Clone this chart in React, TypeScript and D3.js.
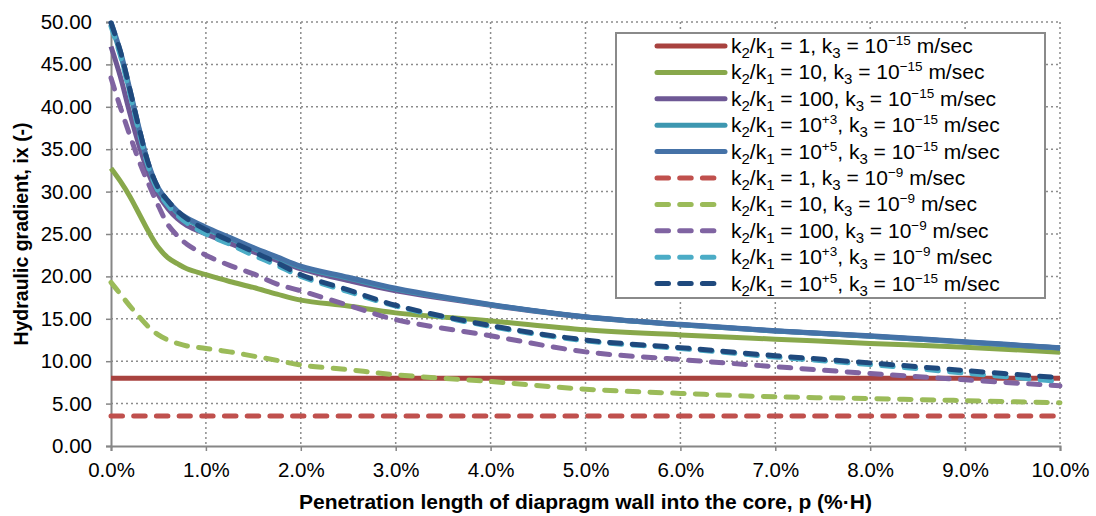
import React, { useEffect, useRef } from "react";
import * as d3 from "d3";

// penetration length p (% of H)
const penetration = [0, 0.1, 0.2, 0.3, 0.4, 0.5, 0.6, 0.7, 0.8, 1.0, 1.25, 1.5, 1.75, 2.0, 2.5, 3, 4, 5, 6, 7, 8, 9, 10];

// hydraulic gradient ix, k3 = 1e-15
const r1k15 = [8.0, 8.0, 8.0, 8.0, 8.0, 8.0, 8.0, 8.0, 8.0, 8.0, 8.0, 8.0, 8.0, 8.0, 8.0, 8.0, 8.0, 8.0, 8.0, 8.0, 8.0, 8.0, 8.0];
const r10k15 = [32.75, 31.2, 29.4, 27.3, 25.2, 23.4, 22.2, 21.5, 20.9, 20.2, 19.4, 18.7, 17.9, 17.2, 16.5, 15.7, 14.75, 13.7, 13.1, 12.6, 12.1, 11.65, 11.05];
const r100k15 = [47.1, 43.5, 39.2, 35.3, 32.0, 29.6, 28.0, 26.8, 26.0, 25.0, 23.9, 22.9, 21.9, 20.9, 19.5, 18.3, 16.6, 15.2, 14.3, 13.55, 12.95, 12.25, 11.55];
const r1e3k15 = [49.7, 46.2, 41.7, 37.1, 32.9, 30.2, 28.7, 27.5, 26.7, 25.6, 24.5, 23.3, 22.2, 21.1, 19.8, 18.5, 16.65, 15.2, 14.3, 13.55, 12.95, 12.25, 11.55];
const r1e5k15 = [50.0, 46.5, 42.0, 37.3, 33.1, 30.4, 28.9, 27.7, 26.9, 25.8, 24.6, 23.4, 22.3, 21.2, 19.9, 18.6, 16.7, 15.25, 14.35, 13.6, 13.0, 12.3, 11.6];
// k3 = 1e-9
const r1k9 = [3.55, 3.55, 3.55, 3.55, 3.55, 3.55, 3.55, 3.55, 3.55, 3.55, 3.55, 3.55, 3.55, 3.55, 3.55, 3.55, 3.55, 3.55, 3.55, 3.55, 3.55, 3.55, 3.55];
const r10k9 = [19.3, 17.9, 16.5, 15.2, 14.0, 13.1, 12.5, 12.1, 11.8, 11.5, 11.1, 10.6, 10.1, 9.55, 9.0, 8.4, 7.6, 6.7, 6.2, 5.8, 5.6, 5.35, 5.1];
const r100k9 = [43.4, 39.9, 36.6, 33.5, 30.8, 28.3, 26.1, 24.8, 23.8, 22.5, 21.3, 20.3, 19.1, 18.3, 16.6, 14.9, 13.0, 11.1, 10.2, 9.35, 8.55, 7.8, 7.1];
const r1e3k9 = [49.5, 46.0, 41.5, 36.8, 32.7, 30.0, 28.4, 27.2, 26.3, 25.0, 23.8, 22.5, 21.3, 20.0, 18.2, 16.5, 14.1, 12.4, 11.5, 10.5, 9.6, 8.6, 7.6];
const r1e5k9 = [49.9, 46.5, 42.0, 37.3, 33.1, 30.4, 28.9, 27.7, 26.8, 25.5, 24.2, 22.9, 21.6, 20.2, 18.4, 16.6, 14.2, 12.5, 11.6, 10.65, 9.8, 8.9, 8.05];

// legend label pieces
const ratioBase = ["1", "10", "100", "10", "10", "1", "10", "100", "10", "10"];
const ratioExp = ["", "", "", "+3", "+5", "", "", "", "+3", "+5"];
const k3Exp = ["\u221215", "\u221215", "\u221215", "\u221215", "\u221215", "\u22129", "\u22129", "\u22129", "\u22129", "\u221215"];

const yTicks = [0, 5, 10, 15, 20, 25, 30, 35, 40, 45, 50];
const xTicks = [0, 1, 2, 3, 4, 5, 6, 7, 8, 9, 10];

const seriesValues = [r1k15, r10k15, r100k15, r1e3k15, r1e5k15, r1k9, r10k9, r100k9, r1e3k9, r1e5k9];
const colors = ["#A8423F", "#88A84B", "#6E5895", "#3D97B0", "#4572A7", "#C0504D", "#9BBB59", "#8064A2", "#4BACC6", "#1F497D"];
const dashed = [false, false, false, false, false, true, true, true, true, true];

const FONT = "'Liberation Sans', Arial, sans-serif";

type Piece = { t: string; s: number; size?: number };

const Chart: React.FC = () => {
  const svgRef = useRef<SVGSVGElement | null>(null);

  useEffect(() => {
    if (!svgRef.current) return;
    const svg = d3.select(svgRef.current);
    svg.selectAll("*").remove();

    const width = 1096;
    const height = 516;
    const margin = { top: 22, right: 36, bottom: 70, left: 111 };
    const plotW = width - margin.left - margin.right;
    const plotH = height - margin.top - margin.bottom;

    svg.attr("width", width).attr("height", height);

    const x = d3.scaleLinear().domain([0, 10]).range([0, plotW]);
    const y = d3.scaleLinear().domain([0, 50]).range([plotH, 0]);

    const g = svg.append("g").attr("transform", `translate(${margin.left},${margin.top})`);

    // dotted gridlines
    g.append("g")
      .selectAll("line")
      .data(yTicks.slice(1))
      .enter()
      .append("line")
      .attr("x1", 0)
      .attr("x2", plotW)
      .attr("y1", (d) => y(d))
      .attr("y2", (d) => y(d))
      .attr("stroke", "#8c8c8c")
      .attr("stroke-width", 1.5)
      .attr("stroke-dasharray", "2,3");

    g.append("g")
      .selectAll("line")
      .data(xTicks.slice(1))
      .enter()
      .append("line")
      .attr("x1", (d) => x(d))
      .attr("x2", (d) => x(d))
      .attr("y1", 0)
      .attr("y2", plotH)
      .attr("stroke", "#8c8c8c")
      .attr("stroke-width", 1.5)
      .attr("stroke-dasharray", "2,3");

    // axes
    const yAxis = d3.axisLeft(y).tickValues(yTicks).tickSize(5).tickPadding(14).tickFormat((d) => d3.format(".2f")(d as number));
    const xAxis = d3.axisBottom(x).tickValues(xTicks).tickSize(5).tickPadding(11).tickFormat((d) => `${(d as number).toFixed(1)}%`);

    const ya = g.append("g").call(yAxis);
    const xa = g.append("g").attr("transform", `translate(0,${plotH})`).call(xAxis);
    [ya, xa].forEach((a) => {
      a.select(".domain").attr("stroke", "#868686").attr("stroke-width", 2);
      a.selectAll(".tick line").attr("stroke", "#868686").attr("stroke-width", 1.5);
      a.selectAll(".tick text").attr("fill", "#000").style("font-family", FONT).style("font-size", "20.5px");
    });

    // series
    const line = d3
      .line<number>()
      .x((_, i) => x(penetration[i]))
      .y((d) => y(d))
      .curve(d3.curveCatmullRom.alpha(0.5));

    seriesValues.forEach((vals, i) => {
      g.append("path")
        .datum(vals)
        .attr("d", line)
        .attr("fill", "none")
        .attr("stroke", colors[i])
        .attr("stroke-width", 5)
        .attr("stroke-linecap", dashed[i] ? "round" : "butt")
        .attr("stroke-linejoin", "round")
        .attr("stroke-dasharray", dashed[i] ? "11.5,11.2" : null);
    });

    // legend
    const lg = svg.append("g").attr("transform", "translate(616,33)");
    lg.append("rect")
      .attr("width", 429)
      .attr("height", 265)
      .attr("fill", "#fff")
      .attr("stroke", "#8a8a8a")
      .attr("stroke-width", 2);

    seriesValues.forEach((_, i) => {
      const cy = 13 + i * 26.4;
      lg.append("line")
        .attr("x1", 41)
        .attr("x2", 109)
        .attr("y1", cy)
        .attr("y2", cy)
        .attr("stroke", colors[i])
        .attr("stroke-width", 5)
        .attr("stroke-linecap", "round")
        .attr("stroke-dasharray", dashed[i] ? "11.5,11.2" : null);

      const pieces: Piece[] = [
        { t: "k", s: 0 },
        { t: "2", s: 5, size: 15 },
        { t: "/k", s: 0 },
        { t: "1", s: 5, size: 15 },
        { t: ` = ${ratioBase[i]}`, s: 0 },
      ];
      if (ratioExp[i]) pieces.push({ t: ratioExp[i], s: -8, size: 13.5 });
      pieces.push({ t: ", k", s: 0 }, { t: "3", s: 5, size: 15 }, { t: " = 10", s: 0 });
      pieces.push({ t: k3Exp[i], s: -8, size: 13.5 }, { t: " m/sec", s: 0 });

      const t = lg
        .append("text")
        .attr("x", 115)
        .attr("y", cy + 7)
        .style("font-family", FONT)
        .style("font-size", "21px")
        .attr("fill", "#000");
      let cur = 0;
      pieces.forEach((p) => {
        const ts = t.append("tspan").attr("dy", p.s - cur).text(p.t);
        if (p.size) ts.style("font-size", `${p.size}px`);
        cur = p.s;
      });
    });

    // axis titles
    svg
      .append("text")
      .attr("transform", `translate(28,${margin.top + plotH / 2}) rotate(-90)`)
      .attr("text-anchor", "middle")
      .style("font-family", FONT)
      .style("font-size", "19.5px")
      .style("font-weight", "bold")
      .text("Hydraulic gradient, ix (-)");

    svg
      .append("text")
      .attr("x", margin.left + plotW / 2)
      .attr("y", 509)
      .attr("text-anchor", "middle")
      .style("font-family", FONT)
      .style("font-size", "21px")
      .style("font-weight", "bold")
      .text("Penetration length of diapragm wall into the core, p (%\u00b7H)");
  }, []);

  return <svg ref={svgRef} style={{ position: "absolute", left: 0, top: 0 }}></svg>;
};

export default function App() {
  return <Chart />;
}
